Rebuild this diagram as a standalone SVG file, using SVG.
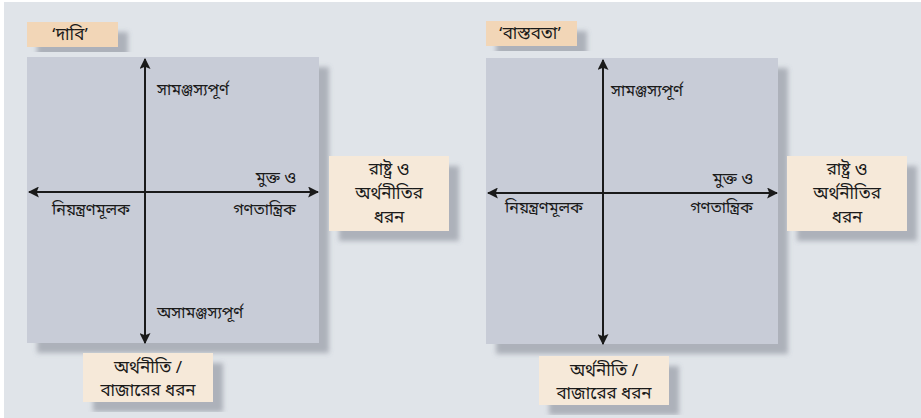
<svg xmlns="http://www.w3.org/2000/svg" width="921" height="418" viewBox="0 0 921 418">
<style>
.bg{fill:#e0e4e9}
.quad{fill:#c8ccd7}
.tag{fill:#f2d6b7}
.box{fill:#f6e9d9}
.axis{stroke:#1a1a1a;stroke-width:2;fill:none}
text{font-family:"Noto Sans Bengali","Noto Sans","DejaVu Sans",sans-serif;font-size:16px;fill:#1a1a1a}
.c{text-anchor:middle}
.r{text-anchor:end}
.bx{font-size:17px}
.tg{font-size:17px}
</style>
<defs>
<filter id="sh" x="-10%" y="-10%" width="130%" height="130%">
<feDropShadow dx="10" dy="10" stdDeviation="2.5" flood-color="#707480" flood-opacity="0.45"/>
</filter>
<marker id="ah" viewBox="0 0 10 10" refX="9" refY="5" markerWidth="5.5" markerHeight="5.5" orient="auto-start-reverse" markerUnits="strokeWidth">
<path d="M0,0 L10,5 L0,10 L2,5 z" fill="#1a1a1a"/>
</marker>
</defs>
<rect x="0" y="0" width="921" height="418" fill="#ffffff"/>
<rect class="bg" x="4" y="2" width="917" height="416"/>

<g id="panel-left">
<rect class="quad" x="27" y="57" width="292" height="286" filter="url(#sh)"/>
</g>
<g id="tag-left">
<rect class="tag" x="27" y="22" width="91" height="25" filter="url(#sh)"/>
<text class="c tg" x="70" y="40">‘দাবি’</text>
</g>

<g id="panel-right">
<rect class="quad" x="486" y="58" width="292" height="286" filter="url(#sh)"/>
</g>
<g id="tag-right">
<rect class="tag" x="486" y="21" width="91" height="25" filter="url(#sh)"/>
<text class="c tg" x="530" y="39">‘বাস্তবতা’</text>
</g>

<g id="connectors">
<line class="axis" x1="145" y1="343" x2="145" y2="59" marker-start="url(#ah)" marker-end="url(#ah)"/>
<line class="axis" x1="29" y1="192" x2="318" y2="192" marker-start="url(#ah)" marker-end="url(#ah)"/>
<line class="axis" x1="603" y1="344" x2="603" y2="60" marker-start="url(#ah)" marker-end="url(#ah)"/>
<line class="axis" x1="488" y1="193" x2="777" y2="193" marker-start="url(#ah)" marker-end="url(#ah)"/>
</g>

<g id="labels-left">
<text x="157" y="95">সামঞ্জস্যপূর্ণ</text>
<text class="r" x="296" y="183">মুক্ত ও</text>
<text x="52" y="215">নিয়ন্ত্রণমূলক</text>
<text class="r" x="296" y="215">গণতান্ত্রিক</text>
<text x="157" y="318">অসামঞ্জস্যপূর্ণ</text>
</g>

<g id="labels-right">
<text x="611" y="96">সামঞ্জস্যপূর্ণ</text>
<text class="r" x="753" y="184">মুক্ত ও</text>
<text x="505" y="213">নিয়ন্ত্রণমূলক</text>
<text class="r" x="753" y="213">গণতান্ত্রিক</text>
</g>

<g id="box-state-left">
<rect class="box" x="329" y="156" width="120" height="75" filter="url(#sh)"/>
<text class="c bx" x="389" y="175">রাষ্ট্র ও</text>
<text class="c bx" x="389" y="199">অর্থনীতির</text>
<text class="c bx" x="389" y="223">ধরন</text>
</g>

<g id="box-market-left">
<rect class="box" x="83" y="353" width="130" height="49" filter="url(#sh)"/>
<text class="c bx" x="148" y="373">অর্থনীতি /</text>
<text class="c bx" x="148" y="396">বাজারের ধরন</text>
</g>

<g id="box-state-right">
<rect class="box" x="787" y="156" width="120" height="75" filter="url(#sh)"/>
<text class="c bx" x="847" y="175">রাষ্ট্র ও</text>
<text class="c bx" x="847" y="199">অর্থনীতির</text>
<text class="c bx" x="847" y="223">ধরন</text>
</g>

<g id="box-market-right">
<rect class="box" x="539" y="356" width="130" height="49" filter="url(#sh)"/>
<text class="c bx" x="604" y="376">অর্থনীতি /</text>
<text class="c bx" x="604" y="399">বাজারের ধরন</text>
</g>
</svg>
